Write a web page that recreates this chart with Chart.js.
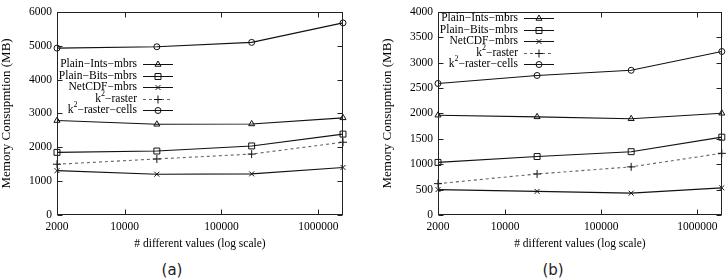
<!DOCTYPE html>
<html>
<head>
<meta charset="utf-8">
<script src="https://cdn.jsdelivr.net/npm/chart.js@4.4.0/dist/chart.umd.min.js"></script>
<style>
body { margin: 0; background: #fff; }
#wrap { position: relative; width: 727px; height: 279px; overflow: hidden; }
.box { position: absolute; top: 0; }
.cap { position: absolute; top: 261px; width: 40px; text-align: center; font-family: "DejaVu Sans"; font-size: 15px; line-height: 18px; color: #222; }
</style>
</head>
<body>
<div id="wrap">
  <div class="box" style="left:0"><canvas id="chartA" width="360" height="255"></canvas></div>
  <div class="box" style="left:360px"><canvas id="chartB" width="367" height="255"></canvas></div>
  <div class="cap" style="left:152px">(a)</div>
  <div class="cap" style="left:533px">(b)</div>
</div>
<script>
// data
const xValues = [2000, 21500, 205000, 1800000];
const xTicks = [2000, 10000, 100000, 1000000];
const seriesNames = ['Plain−Ints−mbrs', 'Plain−Bits−mbrs', 'NetCDF−mbrs', 'k^2−raster', 'k^2−raster−cells'];

const intsA = [2790, 2680, 2690, 2870];
const bitsA = [1850, 1890, 2040, 2390];
const netcdfA = [1310, 1205, 1215, 1405];
const k2rasterA = [1500, 1655, 1800, 2150];
const k2cellsA = [4930, 4970, 5100, 5675];
const yTicksA = [0, 1000, 2000, 3000, 4000, 5000, 6000];

const intsB = [1966, 1933, 1895, 2004];
const bitsB = [1036, 1151, 1247, 1533];
const netcdfB = [500, 465, 430, 535];
const k2rasterB = [617, 808, 948, 1215];
const k2cellsB = [2590, 2748, 2850, 3220];
const yTicksB = [0, 500, 1000, 1500, 2000, 2500, 3000, 3500, 4000];

const serif = '"Liberation Serif", "DejaVu Serif", serif';
const markers = [
    { style: 'triangle', r: 3.5 },
    { style: 'rect', r: 4.2 },
    { style: 'crossRot', r: 3.5 },
    { style: 'cross', r: 4 },
    { style: 'circle', r: 3 }
];

function makeSets(lists) {
    return lists.map((vals, i) => ({
        label: seriesNames[i],
        data: vals.map((v, j) => ({ x: xValues[j], y: v })),
        borderColor: i == 3 ? '#666' : '#111',
        borderWidth: 1.1,
        borderDash: i == 3 ? [3, 3] : [],
        pointStyle: markers[i].style,
        pointRadius: markers[i].r,
        pointBorderWidth: 1,
        pointBorderColor: '#111',
        pointBackgroundColor: 'rgba(0,0,0,0)',
        tension: 0,
        clip: false
    }))
}

function drawPart(ctx, text, x, y, sup) {
    ctx.font = (sup ? '8px ' : '11.5px ') + serif;
    ctx.fillText(text, x, sup ? y - 5 : y);
    return ctx.measureText(text).width;
}

const framePlugin = {
    id: 'frame',
    afterDatasetsDraw(chart, args, opts) {
        const ctx = chart.ctx, a = chart.chartArea;
        const xs = chart.scales.x, ys = chart.scales.y;
        ctx.save();
        ctx.strokeStyle = '#222';
        ctx.lineWidth = 1;
        ctx.setLineDash([]);
        const l = Math.round(a.left) + 0.5, r = Math.round(a.right) - 0.5;
        const t = Math.round(a.top) + 0.5, b = Math.round(a.bottom) - 0.5;
        ctx.strokeRect(l, t, r - l, b - t);
        ctx.beginPath();
        opts.yTicks.forEach(v => {
            const py = Math.round(ys.getPixelForValue(v)) + 0.5;
            ctx.moveTo(l, py); ctx.lineTo(l + 5, py);
            ctx.moveTo(r, py); ctx.lineTo(r - 5, py);
        });
        xTicks.forEach(v => {
            const px = Math.round(xs.getPixelForValue(v)) + 0.5;
            ctx.moveTo(px, b); ctx.lineTo(px, b - 5);
            ctx.moveTo(px, t); ctx.lineTo(px, t + 5);
        });
        ctx.stroke();

        // legend, text right aligned then sample
        ctx.fillStyle = '#000';
        ctx.textBaseline = 'middle';
        ctx.textAlign = 'left';
        chart.data.datasets.forEach((ds, i) => {
            const y = a.top + opts.legendTop + i * 11.5;
            const parts = ds.label.split('^2');
            ctx.font = '11.5px ' + serif;
            let w = ctx.measureText(parts.join('')).width;
            if (parts.length > 1) {
                ctx.font = '8px ' + serif;
                w += ctx.measureText('2').width;
            }
            let x = a.left + 80 - w;
            x += drawPart(ctx, parts[0], x, y, false);
            if (parts.length > 1) {
                x += drawPart(ctx, '2', x, y, true);
                drawPart(ctx, parts[1], x, y, false);
            }
            ctx.beginPath();
            ctx.strokeStyle = ds.borderColor;
            ctx.setLineDash(ds.borderDash);
            ctx.moveTo(a.left + 86, Math.round(y) + 0.5);
            ctx.lineTo(a.left + 116, Math.round(y) + 0.5);
            ctx.stroke();
            ctx.setLineDash([]);
            ctx.strokeStyle = '#111';
            ctx.fillStyle = 'rgba(0,0,0,0)';
            if (Chart.helpers && Chart.helpers.drawPoint) {
                Chart.helpers.drawPoint(ctx, { pointStyle: ds.pointStyle, radius: ds.pointRadius, borderWidth: 1, rotation: 0 }, a.left + 101, Math.round(y) + 0.5);
            }
            ctx.fillStyle = '#000';
        });
        ctx.restore();
    }
}

function makeChart(id, lists, yTicks, yMax, axisWidth, rightPad, titlePad, legendTop) {
    return new Chart(document.getElementById(id).getContext('2d'), {
        type: 'line',
        data: { datasets: makeSets(lists) },
        plugins: [framePlugin],
        options: {
            responsive: false,
            animation: false,
            events: [],
            layout: { padding: { top: 6, right: rightPad, left: 0, bottom: 0 } },
            plugins: {
                legend: { display: false },
                tooltip: { enabled: false },
                frame: { yTicks: yTicks, legendTop: legendTop }
            },
            scales: {
                x: {
                    type: 'logarithmic',
                    min: 2000,
                    max: 1800000,
                    afterBuildTicks: s => { s.ticks = xTicks.map(v => ({ value: v })) },
                    afterFit: s => { s.height = 40 },
                    border: { display: false },
                    grid: { display: false, drawTicks: false },
                    ticks: {
                        autoSkip: false, maxRotation: 0, padding: 5, color: '#000',
                        font: { family: serif, size: 11.5 },
                        callback: v => String(v)
                    },
                    title: {
                        display: true, text: '# different values (log scale)', color: '#000',
                        font: { family: serif, size: 11.5, lineHeight: 1.2 },
                        padding: { top: 0, bottom: 4 }
                    }
                },
                y: {
                    min: 0,
                    max: yMax,
                    afterBuildTicks: s => { s.ticks = yTicks.map(v => ({ value: v })) },
                    afterFit: s => { s.width = axisWidth },
                    border: { display: false },
                    grid: { display: false, drawTicks: false },
                    ticks: {
                        padding: 5, color: '#000',
                        font: { family: serif, size: 11.5 },
                        callback: v => String(v)
                    },
                    title: {
                        display: true, text: 'Memory Consupmtion (MB)', color: '#000',
                        font: { family: serif, size: 13, lineHeight: 1 },
                        padding: { top: titlePad, bottom: 0 }
                    }
                }
            }
        }
    })
}

makeChart('chartA', [intsA, bitsA, netcdfA, k2rasterA, k2cellsA], yTicksA, 6000, 57, 17, 0, 52.5);
makeChart('chartB', [intsB, bitsB, netcdfB, k2rasterB, k2cellsB], yTicksB, 4000, 78, 4, 21, 6.5);
</script>
</body>
</html>
